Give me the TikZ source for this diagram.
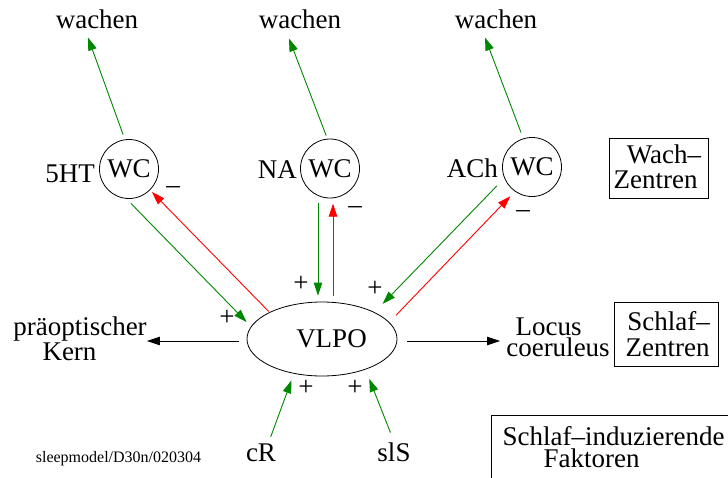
\documentclass[tikz,border=0pt]{standalone}
\usepackage{fontspec}
\setmainfont{Liberation Serif}
\usetikzlibrary{arrows.meta,shapes.geometric,calc}
\definecolor{excite}{RGB}{0,135,0}
\definecolor{inhibit}{RGB}{255,0,0}
\begin{document}
\begin{tikzpicture}[x=1pt,y=-1pt,
  big/.style={font=\fontsize{27}{27}\selectfont, inner sep=0pt},
  txt/.style={big, anchor=base},
  sign/.style={font=\fontsize{27}{27}\selectfont, inner sep=0pt, anchor=base},
  wc/.style={circle, draw, line width=0.8pt, minimum size=59pt, inner sep=0pt,
             font=\fontsize{27}{27}\selectfont},
  frame/.style={draw, line width=0.8pt, inner sep=0pt},
  conn/.style={line width=0.9pt, -{Triangle[length=13pt,width=8.5pt]}},
  exc/.style={conn, excite},
  inh/.style={conn, inhibit},
  outarrow/.style={conn, black},
]
\useasboundingbox (0,0) rectangle (728,477);
\clip (0,0) rectangle (728,477);

% wake outputs
\node[txt] (wach1) at (97,28) {wachen};
\node[txt] (wach2) at (300,28) {wachen};
\node[txt] (wach3) at (496,28) {wachen};

% wake centres with their transmitters
\node[wc] (wc1) at (129,169) {WC};
\node[wc] (wc2) at (330,168.5) {WC};
\node[wc] (wc3) at (532,167) {WC};
\node[big, anchor=base east] (l5ht) at (95,182) {5HT};
\node[big, anchor=base east] (lna) at (297,178) {NA};
\node[big, anchor=base east] (lach) at (498,177) {ACh};

% sleep centre
\node[ellipse, draw, line width=0.8pt, minimum width=150pt, minimum height=74pt,
      inner sep=0pt] (vlpo) at (322,339) {};
\node[txt] (vlpotxt) at (331.5,347) {VLPO};

% targets of the sleep centre
\node[txt] (pk1) at (80,335) {präoptischer};
\node[txt] (pk2) at (69.5,360) {Kern};
\node[txt] (lc1) at (548.5,335) {Locus};
\node[txt] (lc2) at (558,356) {coeruleus};

% sleep-inducing inputs
\node[txt] (cr) at (261,461) {cR};
\node[txt] (sls) at (394,461) {slS};

% legend boxes
\node[frame, minimum width=99pt, minimum height=60pt] (wzbox) at (658.5,168) {};
\node[txt] (wz1) at (664,163) {Wach\textendash};
\node[txt] (wz2) at (655.5,188) {Zentren};
\node[frame, minimum width=104pt, minimum height=64pt] (szbox) at (666,334) {};
\node[txt] (sz1) at (668.5,330) {Schlaf\textendash};
\node[txt] (sz2) at (667.5,356) {Zentren};
\node[frame, anchor=north west, minimum width=236.5pt, minimum height=80pt] (sfbox) at (491,415) {};
\node[txt] (sf1) at (613.5,445) {Schlaf\textendash induzierende};
\node[txt] (sf2) at (591.5,467) {Faktoren};

% file tag
\node[anchor=base, inner sep=0pt, font=\fontsize{16}{16}\selectfont] (tag) at (118.5,462) {sleepmodel/D30n/020304};

% signs of the connections
\node[sign] (m1) at (173,193) {\textendash};
\node[sign] (m2) at (355,213) {\textendash};
\node[sign] (m3) at (523,217) {\textendash};
\node[sign] (p1) at (227,325.8) {+};
\node[sign] (p2) at (301,291.8) {+};
\node[sign] (p3) at (375,296.8) {+};
\node[sign] (p4) at (306,395.8) {+};
\node[sign] (p5) at (355,395.8) {+};

% wake centres -> wachen
\draw[exc, shorten <=5.1pt] (wc1.98) -- ([xshift=-9pt,yshift=-9pt]wach1.south);
\draw[exc, shorten <=3.4pt] (wc2.95) -- ([xshift=-11pt,yshift=-10pt]wach2.south);
\draw[exc, shorten <=6.2pt] (wc3.107) -- ([xshift=-11pt,yshift=-9pt]wach3.south);

% wake centres excite VLPO
\draw[exc, shorten <=6.4pt, shorten >=6.2pt] (wc1.265) -- (vlpo.170.5);
\draw[exc, shorten <=5pt, shorten >=6pt] ([xshift=-12pt]wc2.south) -- ([xshift=-4pt]vlpo.north);
\draw[exc, shorten <=10.6pt, shorten >=11.5pt] (wc3.202) -- (vlpo.27.4);

% VLPO inhibits the wake centres
\draw[inh, shorten <=1pt, shorten >=2.6pt] (vlpo.153) -- (wc1.315);
\draw[inh, shorten <=5.5pt, shorten >=5.3pt] ([xshift=11pt]vlpo.north) -- ([xshift=3pt]wc2.south);
\draw[inh, shorten <=9.5pt, shorten >=6.5pt] (vlpo.14.5) -- (wc3.235.5);

% VLPO outputs
\coordinate (vw) at ([yshift=-2pt]vlpo.west);
\coordinate (ve) at ([yshift=-2pt]vlpo.east);
\draw[outarrow, shorten <=8pt] (vw) -- (vw -| pk1.east);
\draw[outarrow, shorten <=10pt, shorten >=6pt] (ve) -- (ve -| lc2.west);

% sleep-inducing factors excite VLPO
\draw[exc, shorten <=3.5pt, shorten >=7pt] ([xshift=8.5pt,yshift=3pt]cr.north) -- (vlpo.231);
\draw[exc, shorten <=7pt, shorten >=10pt] ([xshift=-1pt,yshift=3pt]sls.north) -- (vlpo.325.5);
\end{tikzpicture}
\end{document}
